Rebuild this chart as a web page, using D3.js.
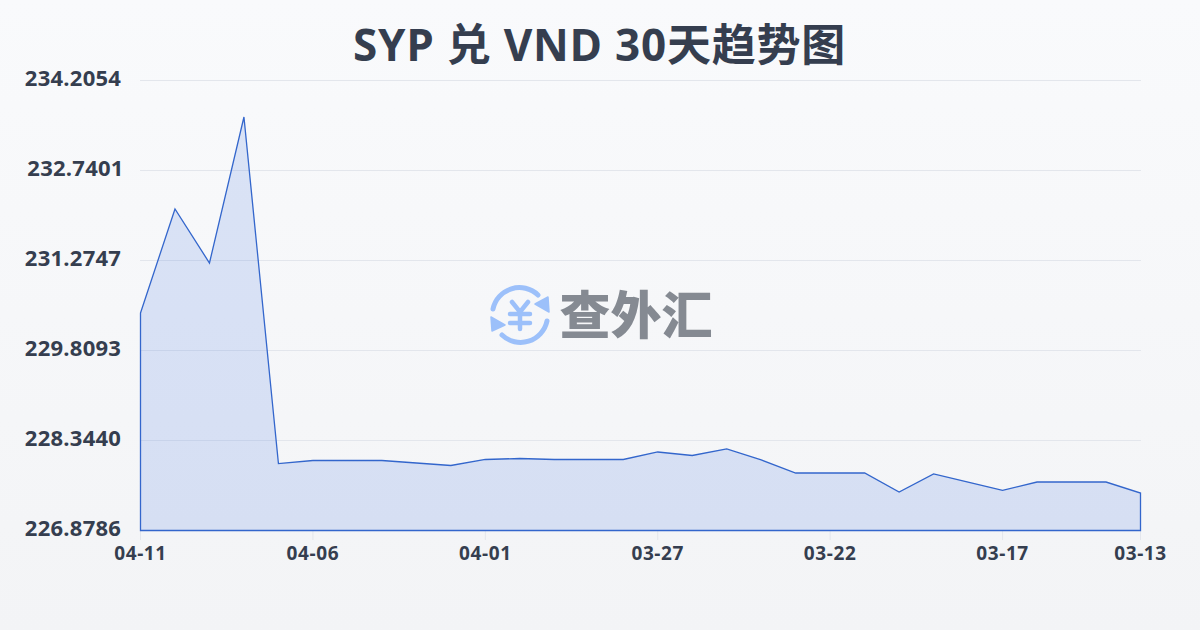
<!DOCTYPE html>
<html><head><meta charset="utf-8">
<script src="https://cdn.jsdelivr.net/npm/d3@7/dist/d3.min.js"></script>
<style>html,body{margin:0;padding:0;width:1200px;height:630px;overflow:hidden}svg{display:block}</style>
</head><body><svg id="c" width="1200" height="630"></svg>
<script>
const titleText = "SYP 兑 VND 30天趋势图";
const dates = ["04-11","04-10","04-09","04-08","04-07","04-06","04-05","04-04","04-03","04-02","04-01","03-31","03-30","03-29","03-28","03-27","03-26","03-25","03-24","03-23","03-22","03-21","03-20","03-19","03-18","03-17","03-16","03-15","03-14","03-13"];
const rates = [230.420,232.113,231.234,233.611,227.969,228.018,228.018,228.018,227.978,227.937,228.035,228.051,228.035,228.035,228.035,228.157,228.100,228.206,228.027,227.815,227.815,227.815,227.505,227.799,227.668,227.533,227.668,227.668,227.668,227.489];
const yTicks = [226.8786,228.3440,229.8093,231.2747,232.7401,234.2054];
const xTicks = ["04-11","04-06","04-01","03-27","03-22","03-17","03-13"];
const logoText = "查外汇";

const svg = d3.select("#c");
const defs = svg.append("defs");
const bg = defs.append("linearGradient").attr("id","bg").attr("x1",0).attr("y1",0).attr("x2",0).attr("y2",1);
bg.append("stop").attr("offset","0").attr("stop-color","#f9fafc");
bg.append("stop").attr("offset","1").attr("stop-color","#f3f4f6");
svg.append("rect").attr("width",1200).attr("height",630).attr("fill","url(#bg)");

const sans = "'Open Sans','Noto Sans CJK SC',sans-serif";
const ink = "#353e4f";
const x = d3.scalePoint().domain(dates).range([140.5,1140.5]);
const y = d3.scaleLinear().domain([yTicks[0],yTicks[5]]).range([530.5,80.5]);

svg.append("text").attr("x",599.5).attr("y",61).attr("text-anchor","middle")
  .attr("font-family",sans).attr("font-weight",700).attr("font-size",44).attr("letter-spacing",0.75).attr("fill",ink).text(titleText);

svg.append("g").selectAll("line").data(yTicks.slice(1)).join("line")
  .attr("x1",140).attr("x2",1141).attr("y1",d=>y(d)).attr("y2",d=>y(d))
  .attr("stroke","#e3e6ec").attr("stroke-width",1);

svg.append("g").selectAll("text").data(yTicks).join("text")
  .attr("x",d=>d===232.7401?75.5:73).attr("y",d=>y(d)+5.5).attr("text-anchor","middle")
  .attr("font-family",sans).attr("font-weight",700).attr("font-size",22).attr("letter-spacing",0.25).attr("fill",ink)
  .text(d=>d.toFixed(4));

svg.append("g").selectAll("line").data(xTicks).join("line")
  .attr("x1",d=>x(d)).attr("x2",d=>x(d)).attr("y1",531).attr("y2",540)
  .attr("stroke","#e3e6ec");
svg.append("g").selectAll("text").data(xTicks).join("text")
  .attr("x",d=>x(d)).attr("y",560).attr("text-anchor","middle")
  .attr("font-family",sans).attr("font-weight",700).attr("font-size",19).attr("letter-spacing",0.6).attr("fill",ink)
  .text(d=>d);

// Logo
const logo = svg.append("g");
const ic = logo.append("g").attr("transform","translate(520,315)").attr("fill","none").attr("stroke","#9cc0fa").attr("stroke-linecap","round");
ic.append("path").attr("stroke-width",5).attr("d","M-27,-6 A27,27 0 0 1 18,-20");
ic.append("path").attr("stroke-width",5).attr("d","M27,6 A27,27 0 0 1 -18,20");
ic.append("path").attr("fill","#9cc0fa").attr("stroke","#9cc0fa").attr("stroke-width",1.5).attr("stroke-linejoin","round").attr("d","M15,-11 L28,-18 L29,-3 Z");
ic.append("path").attr("fill","#9cc0fa").attr("stroke","#9cc0fa").attr("stroke-width",1.5).attr("stroke-linejoin","round").attr("d","M-15,10 L-28,16 L-29,2 Z");
ic.append("path").attr("stroke-width",4.5).attr("d","M-8,-13 L0,-3 L8,-13 M-10,-1 L10,-1 M-10,8 L10,8 M0,-3 L0,14");
logo.append("text").attr("x",636).attr("y",334).attr("text-anchor","middle")
  .attr("font-family","'Noto Sans CJK SC',sans-serif").attr("font-weight",900).attr("font-size",51).attr("fill","#858a92").text(logoText);

const area = d3.area().x((d,i)=>x(dates[i])).y0(530.5).y1(d=>y(d));
svg.append("path").datum(rates).attr("d",area).attr("fill","#3c6fe0").attr("fill-opacity",0.16)
  .attr("stroke","#3366cc").attr("stroke-width",1.3);
</script></body></html>
